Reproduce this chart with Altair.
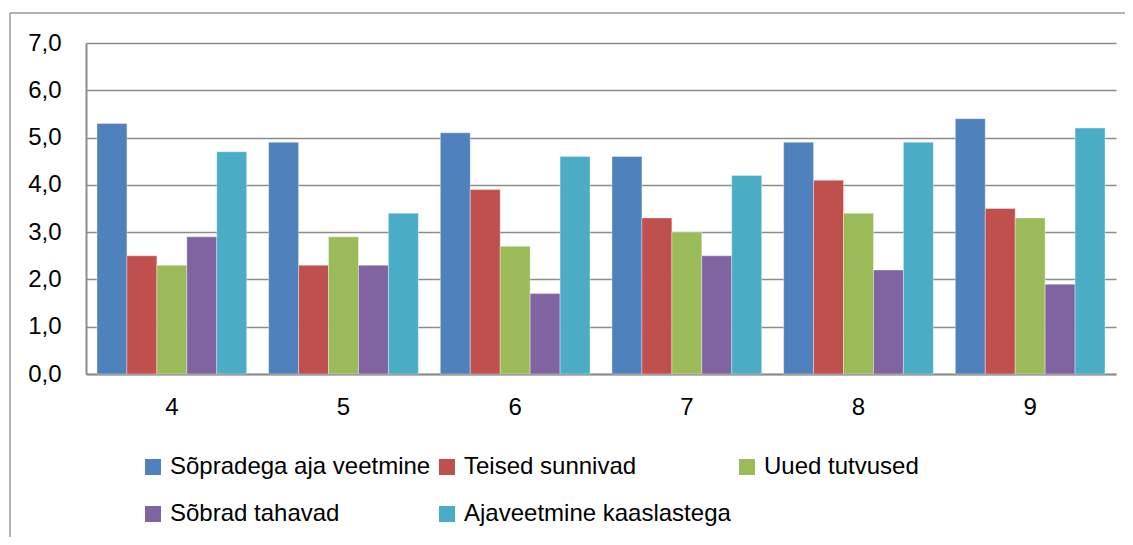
import altair as alt
import pandas as pd

categories = ["4", "5", "6", "7", "8", "9"]
series = ["Sõpradega aja veetmine", "Teised sunnivad", "Uued tutvused",
          "Sõbrad tahavad", "Ajaveetmine kaaslastega"]
values_sopradega = [5.3, 4.9, 5.1, 4.6, 4.9, 5.4]
values_teised = [2.5, 2.3, 3.9, 3.3, 4.1, 3.5]
values_uued = [2.3, 2.9, 2.7, 3.0, 3.4, 3.3]
values_sobrad = [2.9, 2.3, 1.7, 2.5, 2.2, 1.9]
values_ajaveetmine = [4.7, 3.4, 4.6, 4.2, 4.9, 5.2]
colors = ["#4F81BD", "#C0504D", "#9BBB59", "#8064A2", "#4BACC6"]

all_values = [values_sopradega, values_teised, values_uued, values_sobrad, values_ajaveetmine]
rows = []
for s, vals in zip(series, all_values):
    for c, v in zip(categories, vals):
        rows.append({"cat": c, "series": s, "value": v})
df = pd.DataFrame(rows)

# legend is filled column by column: order the colour domain so it reads row by row
legend_order = [series[0], series[3], series[1], series[4], series[2]]
legend_colors = [colors[series.index(s)] for s in legend_order]

FONT = "Liberation Sans"
GRID = "#8c8c8c"
FRAME = "#9a9a9a"

one = pd.DataFrame({"k": [0]})
frame_top = alt.Chart(one).mark_rule(color=FRAME, strokeWidth=1.5, clip=False).encode(
    x=alt.value(-76), x2=alt.value(1200), y=alt.value(-30)
)
frame_left = alt.Chart(one).mark_rule(color=FRAME, strokeWidth=1.5, clip=False).encode(
    x=alt.value(-76), y=alt.value(-30), y2=alt.value(600)
)

bars = alt.Chart(df).mark_bar(stroke="white", strokeOpacity=0.35, strokeWidth=1).encode(
    x=alt.X("cat:N", sort=categories, title=None,
            scale=alt.Scale(paddingInner=0.128, paddingOuter=0.064),
            axis=alt.Axis(labelAngle=0, ticks=False, labelPadding=21,
                          domainColor=GRID, domainWidth=2,
                          labelFont=FONT, labelFontSize=24, labelColor="#000")),
    xOffset=alt.XOffset("series:N", sort=series, scale=alt.Scale(paddingInner=0, paddingOuter=0)),
    y=alt.Y("value:Q", title=None,
            scale=alt.Scale(domain=[0, 7], nice=False),
            axis=alt.Axis(values=[0, 1, 2, 3, 4, 5, 6, 7], ticks=False, labelPadding=25,
                          labelExpr="replace(format(datum.value, '.1f'), '.', ',')",
                          domainColor=GRID, domainWidth=2,
                          gridColor=GRID, gridWidth=1.5,
                          labelFont=FONT, labelFontSize=24, labelColor="#000")),
    color=alt.Color("series:N", title=None,
                    scale=alt.Scale(domain=legend_order, range=legend_colors),
                    legend=alt.Legend(orient="none", legendX=55, legendY=412,
                                      columns=3, symbolType="square", symbolSize=256,
                                      symbolStrokeWidth=0, symbolOpacity=1,
                                      labelFont=FONT, labelFontSize=24, labelColor="#000",
                                      labelOffset=5, columnPadding=4, rowPadding=23,
                                      padding=0, labelLimit=400)),
)

chart = alt.layer(frame_top, frame_left, bars).properties(
    width=1030, height=331,
    background="white",
    autosize=alt.AutoSizeParams(type="none"),
    padding={"left": 78, "top": 35, "right": 9, "bottom": 163},
).configure_view(stroke="transparent", strokeWidth=0)

chart.save("out.html", embed_options={"renderer": "svg", "actions": False})
